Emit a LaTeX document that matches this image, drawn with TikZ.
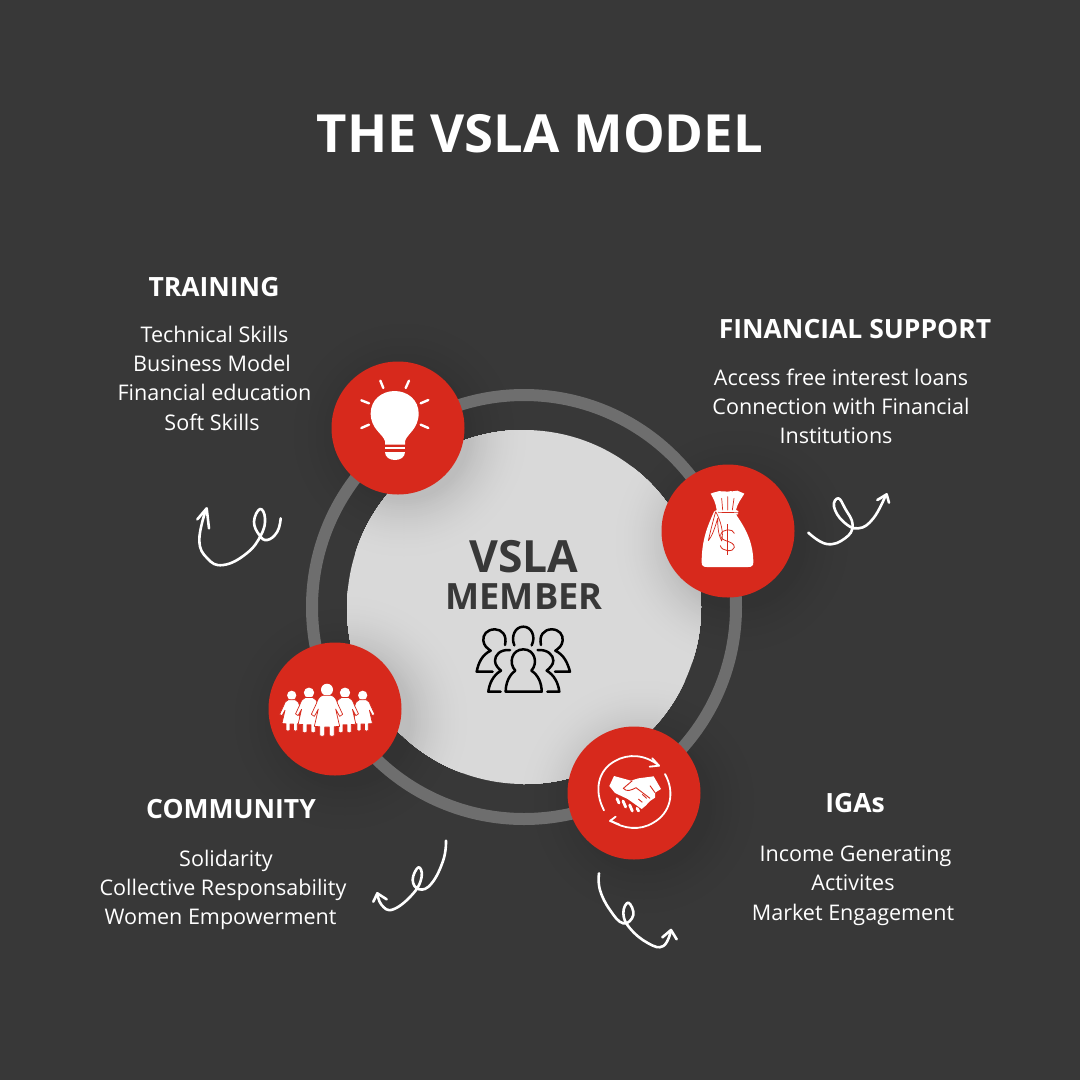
\documentclass[tikz,border=0pt]{standalone}
\usepackage{fontspec}
\setmainfont{Open Sans}
\definecolor{bgc}{HTML}{383838}
\definecolor{bgdark}{HTML}{323232}
\definecolor{ringc}{HTML}{6E6E6E}
\definecolor{corec}{HTML}{D9D9D9}
\definecolor{coredark}{HTML}{BDBDBD}
\definecolor{redc}{HTML}{D7291C}
\tikzset{
  x=1pt,y=-1pt,
  heading/.style={text=white,font=\bfseries\fontsize{26.5}{30}\selectfont,inner sep=0pt,anchor=center},
  bodytext/.style={text=white,font=\fontsize{21.55}{29.3}\selectfont,inner sep=0pt,align=center,anchor=center},
  badge/.style={circle,fill=redc,minimum size=133pt,inner sep=0pt,draw=none},
  swirl/.style={draw=white,line width=2.6pt,line cap=round,line join=round},
  peopleline/.style={draw=black,line width=2.5pt,line cap=round,line join=round},
}
% graded shadow made of opaque concentric discs: #1 light colour, #2 dark colour, #3,#4 centre
\newcommand{\gradedshadow}[4]{%
  \foreach \rr in {130,128,...,66}{%
    \pgfmathsetmacro{\tt}{(\rr-66)/64}%
    \pgfmathsetmacro{\pp}{100*(1-\tt)*(1-\tt)}%
    \fill[#2!\pp!#1] (#3,#4) circle[radius=\rr];}}
\newcommand{\womanfig}[3]{%
  \begin{scope}[shift={(#1,#2)},scale=#3/3]
    \fill[white] (0,0) circle[radius=18];
    \draw[redc,line width=0.7pt,fill=white,line join=round]
      (-13,17) -- (13,17) .. controls (24,20) and (28,30) .. (32,42)
      -- (47,74) -- (38,80) -- (26,58) -- (38,110) -- (22,111) -- (22,136) .. controls (22,141) and (8,141) .. (7,136)
      -- (7,112) -- (-7,112) -- (-7,136) .. controls (-8,141) and (-22,141) .. (-22,136) -- (-22,111) -- (-38,110)
      -- (-26,58) -- (-38,80) -- (-47,74) -- (-32,42) .. controls (-28,30) and (-24,20) .. (-13,17) -- cycle;
  \end{scope}}
\begin{document}
\begin{tikzpicture}
\useasboundingbox (0,0) rectangle (1080,1080);
\fill[bgc] (0,0) rectangle (1080,1080);

% soft shadows on the background
\gradedshadow{bgc}{bgdark}{404}{434}
\gradedshadow{bgc}{bgdark}{738}{541}
\gradedshadow{bgc}{bgdark}{345}{719}
\gradedshadow{bgc}{bgdark}{644}{803}

% ring and core
\coordinate (hub) at (524,607);
\draw[ringc,line width=12pt] (hub) circle[radius=212];
\node[circle,fill=corec,minimum size=354pt,inner sep=0pt] (core) at (hub) {};

% soft shadows on the core
\begin{scope}
  \clip (hub) circle[radius=177];
  \gradedshadow{corec}{coredark}{404}{434}
  \gradedshadow{corec}{coredark}{738}{541}
  \gradedshadow{corec}{coredark}{345}{719}
  \gradedshadow{corec}{coredark}{644}{803}
\end{scope}

% text
\node[text=white,font=\bfseries\fontsize{52.6}{60}\selectfont,inner sep=0pt] (title) at (540,134) {THE VSLA MODEL};
\node[text=bgc,font=\bfseries\fontsize{44.4}{48}\selectfont,inner sep=0pt] (vsla) at (524,557) {VSLA};
\node[text=bgc,font=\bfseries\fontsize{36.2}{40}\selectfont,inner sep=0pt] (member) at (524,597) {MEMBER};

\node[heading] (h1) at (214,287) {TRAINING};
\node[bodytext] (b1) at (214,378) {\hspace*{1pt}Technical Skills\\\hspace*{-4pt}Business Model\\\hspace*{1pt}Financial education\\\hspace*{-4pt}Soft Skills};
\node[heading] (h2) at (855,329) {FINANCIAL SUPPORT};
\node[bodytext] (b2) at (841,406.500) {Access free interest loans\\Connection with Financial\\\hspace*{-10pt}Institutions};
\node[heading] (h3) at (231,809) {COMMUNITY};
\node[bodytext] (b3) at (223,890) {\hspace*{6pt}Solidarity\\Collective Responsability\\\hspace*{-5pt}Women Empowerment};
\node[heading] (h4) at (855,803) {IGAs};
\node[bodytext] (b4) at (853,885.500) {\hspace*{5pt}Income Generating\\Activites\\Market Engagement};

% badges
\node[badge] (training) at (398,428) {};
\node[badge] (money) at (728,531) {};
\node[badge] (community) at (335,709) {};
\node[badge] (iga) at (634,793) {};

% bulb
\begin{scope}[shift={(320,350)},scale=1/3]
  \fill[white] (195,284) -- (195,274) .. controls (190,252) and (152,238) .. (152,190)
    .. controls (152,150) and (185,123) .. (224,123)
    .. controls (263,123) and (296,150) .. (296,190)
    .. controls (296,238) and (260,252) .. (255,274) -- (255,284) -- cycle;
  \fill[white] (195,292) rectangle (255,298);
  \fill[white] (195,306) -- (255,306) .. controls (255,322) and (240,330) .. (225,330) .. controls (210,330) and (195,322) .. (195,306) -- cycle;
  \foreach \xa/\ya/\xb/\yb in {181/92/190/114,267/92/257/114,124/151/147/160,325/150/302/160,124/234/147/224,325/234/302/224}
    \draw[white,line width=2.4pt,line cap=round] (\xa,\ya) -- (\xb,\yb);
\end{scope}

% money bag
\begin{scope}[shift={(650,455)},scale=1/3]
  \fill[white] (182,116) .. controls (195,110) and (200,112) .. (208,108)
    .. controls (220,112) and (225,106) .. (233,110) .. controls (245,106) and (252,112) .. (262,107)
    .. controls (270,112) and (275,110) .. (283,116) .. controls (275,130) and (262,145) .. (258,165)
    -- (265,168) -- (264,178) -- (258,178)
    .. controls (275,205) and (310,250) .. (310,322) .. controls (310,332) and (305,336) .. (295,336)
    -- (170,336) .. controls (160,336) and (155,332) .. (155,322)
    .. controls (155,255) and (172,215) .. (192,170) -- (200,165)
    .. controls (198,145) and (190,130) .. (182,116) -- cycle;
  \draw[redc,line width=0.7pt,line cap=round] (205,172) -- (265,173);
  \draw[redc,line width=0.7pt,line cap=round] (218,165) -- (215,130) (233,165) -- (233,125) (247,165) -- (252,130);
  \draw[redc,line width=0.7pt,line join=round] (197,170) .. controls (190,195) and (182,225) .. (175,257)
    .. controls (185,245) and (193,225) .. (203,190) .. controls (203,215) and (205,240) .. (215,258)
    .. controls (222,235) and (212,195) .. (197,170);
  \draw[redc,line width=0.8pt,line cap=round]
    (253,235) .. controls (250,220) and (215,220) .. (212,240) .. controls (210,262) and (253,255) .. (253,277)
    .. controls (252,292) and (215,290) .. (211,272);
  \draw[redc,line width=0.8pt] (232,208) -- (232,300);
\end{scope}

% women
\womanfig{291.700}{695.300}{0.77}
\womanfig{362.700}{695.300}{0.77}
\womanfig{309}{692.700}{0.86}
\womanfig{345}{692.700}{0.86}
\womanfig{327}{689.700}{1}

% handshake
\begin{scope}[shift={(555,715)},scale=1/3]
  \draw[white,line width=1.8pt,line cap=round] (147,286) .. controls (115,225) and (130,165) .. (180,138)
    .. controls (220,115) and (270,118) .. (312,152);
  \draw[white,line width=1.8pt,line cap=round,line join=round] (292,130) -- (312,152) -- (284,155);
  \draw[white,line width=1.8pt,line cap=round] (330,177) .. controls (362,235) and (345,295) .. (295,323)
    .. controls (255,348) and (205,342) .. (166,316);
  \draw[white,line width=1.8pt,line cap=round,line join=round] (182,305) -- (165,318) -- (192,328);
  \fill[white] (163,213) -- (177,183) -- (228,197) -- (250,190) -- (296,184) -- (318,222) -- (300,233)
    -- (300,248) -- (285,258) -- (272,272) -- (260,282) -- (218,252) -- (180,234) -- cycle;
  \draw[redc,line width=0.9pt,line join=round] (232,197) -- (205,220) .. controls (215,232) and (230,225) .. (243,218)
    -- (285,250);
  \draw[redc,line width=0.9pt] (262,238) -- (275,250) (250,252) -- (262,262) (300,233) -- (285,212);
  \foreach \xa/\ya/\xb/\yb in {186/251/192/264,204/258/212/276,224/270/232/288,246/280/251/288}
    \draw[white,line width=2.8pt,line cap=round] (\xa,\ya) -- (\xb,\yb);
\end{scope}

% people icon
\begin{scope}[shift={(450,610)},scale=1/3]
  \draw[peopleline] (165,105) .. controls (172,75) and (155,58) .. (135,58) .. controls (110,58) and (98,75) .. (100,92)
    .. controls (102,108) and (112,115) .. (122,122) .. controls (95,135) and (85,160) .. (80,185) -- (128,185);
  \draw[peopleline] (193,106) .. controls (182,80) and (195,50) .. (220,50) .. controls (245,50) and (258,80) .. (245,106);
  \draw[peopleline] (273,105) .. controls (266,75) and (283,58) .. (305,58) .. controls (328,58) and (340,75) .. (338,92)
    .. controls (336,108) and (326,115) .. (316,122) .. controls (343,135) and (353,160) .. (360,185) -- (315,185);
  \draw[peopleline] (180,120) .. controls (150,118) and (135,135) .. (135,152) .. controls (135,165) and (145,175) .. (153,182)
    .. controls (130,195) and (118,220) .. (115,245) -- (152,245);
  \draw[peopleline] (263,120) .. controls (293,118) and (310,135) .. (310,152) .. controls (310,165) and (298,175) .. (290,182)
    .. controls (313,195) and (325,220) .. (328,245) -- (292,245);
  \draw[peopleline] (196,182) .. controls (175,160) and (185,118) .. (220,118) .. controls (255,118) and (265,160) .. (244,182)
    .. controls (265,195) and (275,220) .. (275,245) -- (167,245) .. controls (167,220) and (177,195) .. (196,182);
\end{scope}

% swirls
\begin{scope}[shift={(180,490)},scale=1/3]
  \draw[swirl] plot[smooth,tension=0.75] coordinates {(302,85) (292,125) (262,150) (238,135) (222,95) (240,57) (255,85) (243,135) (200,190) (130,225) (82,205) (58,150) (78,58)};
  \draw[swirl] (52,88) -- (80,55) -- (87,115);
\end{scope}
\begin{scope}[shift={(790,480)},scale=1/3]
  \draw[swirl] plot[smooth,tension=0.75] coordinates {(55,158) (110,192) (165,175) (188,135) (165,85) (145,55) (132,80) (160,125) (205,145) (250,115) (287,46)};
  \draw[swirl] (262,60) -- (290,43) -- (297,68);
\end{scope}
\begin{scope}[shift={(360,830)},scale=1/3]
  \draw[swirl] plot[smooth,tension=0.75] coordinates {(258,32) (250,90) (215,160) (178,178) (158,150) (175,112) (185,140) (160,190) (100,238) (65,225) (52,190)};
  \draw[swirl] (40,215) -- (52,190) -- (80,208);
\end{scope}
\begin{scope}[shift={(585,860)},scale=1/3]
  \draw[swirl] plot[smooth,tension=0.75] coordinates {(42,40) (45,90) (75,150) (115,190) (145,165) (130,128) (115,160) (135,205) (190,250) (235,258) (258,212)};
  \draw[swirl] (232,232) -- (258,210) -- (275,238);
\end{scope}
\end{tikzpicture}
\end{document}
